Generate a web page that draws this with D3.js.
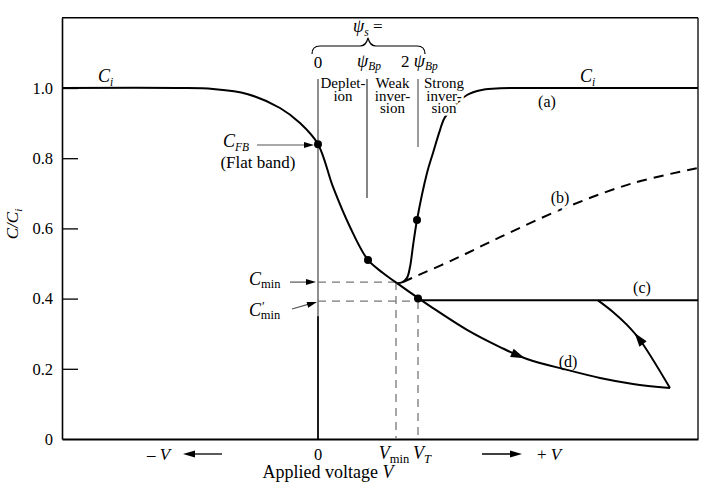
<!DOCTYPE html>
<html>
<head>
<meta charset="utf-8">
<script src="https://cdn.jsdelivr.net/npm/d3@7"></script>
<style>
  html, body { margin: 0; padding: 0; background: #fff; }
  svg { display: block; font-family: "Liberation Serif", "Times New Roman", serif; }
</style>
</head>
<body>
<svg id="chart" width="710" height="495"></svg>
<script>
// ---------------- DATA ----------------
const yTickValues = [0, 0.2, 0.4, 0.6, 0.8, 1.0];
const yTickLabels = ["0", "0.2", "0.4", "0.6", "0.8", "1.0"];

// common accumulation/depletion curve (V in units of V_T, C/Ci)
const mainV = [-2.56, -1.4, -1.05, -0.71, -0.38, -0.18, 0.0, 0.15, 0.32, 0.50, 0.65, 0.79];
const mainC = [1.0, 1.0, 0.997, 0.983, 0.943, 0.900, 0.840, 0.718, 0.604, 0.510, 0.473, 0.444];

// (a) low frequency
const aV = [0.79, 0.84, 0.89, 0.92, 0.95, 0.99, 1.09, 1.15, 1.22, 1.27, 1.49, 1.65, 1.82, 2.0, 3.8];
const aC = [0.444, 0.446, 0.459, 0.490, 0.550, 0.624, 0.758, 0.815, 0.880, 0.917, 0.980, 0.995, 0.999, 1.0, 1.0];

// (b) intermediate frequency (dashed)
const bV = [0.85, 0.95, 1.37, 1.82, 2.49, 3.15, 3.80];
const bC = [0.447, 0.460, 0.513, 0.575, 0.661, 0.729, 0.772];

// (c) high frequency
const cV = [1.0, 3.8];
const cC = [0.395, 0.395];

// (d) deep depletion
const dV = [0.79, 1.0, 1.15, 1.49, 1.82, 2.09, 2.49, 2.82, 3.15, 3.52];
const dC = [0.444, 0.402, 0.373, 0.311, 0.262, 0.228, 0.197, 0.174, 0.157, 0.145];

// (d) return to (c)
const rV = [3.52, 3.22, 3.09, 2.95, 2.80];
const rC = [0.145, 0.282, 0.325, 0.362, 0.395];

// marked points
const dotV = [0.0, 0.50, 0.99, 1.0];
const dotC = [0.840, 0.510, 0.624, 0.400];

// special values
const Vmin = 0.78, VT = 1.0;
const Cmin = 0.447, CminPrime = 0.393;
const psiV = [0.0, 0.49, 1.0];         // ψs = 0, ψBp, 2ψBp boundaries
const xTickValues = [0, Vmin, VT];

// ---------------- CHART ----------------
const svg = d3.select("#chart");
const x = d3.scaleLinear().domain([-2.56, 3.8]).range([62, 698]);
const y = d3.scaleLinear().domain([0, 1.2]).range([439, 17.8]);

const line = d3.line().x(d => x(d[0])).y(d => y(d[1])).curve(d3.curveCatmullRom.alpha(0.5));
const zip = (a, b) => a.map((v, i) => [v, b[i]]);

// frame: top and right
svg.append("line").attr("x1", x(-2.56)).attr("x2", x(3.8)).attr("y1", y(1.2)).attr("y2", y(1.2))
  .attr("stroke", "#000").attr("stroke-width", 1.6);
svg.append("line").attr("x1", x(3.8)).attr("x2", x(3.8)).attr("y1", y(1.2)).attr("y2", y(0))
  .attr("stroke", "#000").attr("stroke-width", 1.3);

// y axis with inward ticks
const yAxis = d3.axisLeft(y).tickValues(yTickValues)
  .tickFormat((d, i) => yTickLabels[i]).tickSizeInner(-16).tickSizeOuter(0).tickPadding(9);
const gy = svg.append("g").attr("transform", `translate(${x(-2.56)},0)`).call(yAxis);
gy.select(".domain").attr("stroke-width", 1.6);
gy.selectAll(".tick line").attr("stroke-width", 1.3);
gy.selectAll(".tick text").attr("font-size", 16.5).attr("font-family", "Liberation Serif").attr("fill", "#000");
gy.selectAll(".tick").filter(d => d === 0).select("line").remove();

// x axis
const xAxis = d3.axisBottom(x).tickValues(xTickValues).tickSize(0).tickPadding(0).tickFormat(() => "");
const gx = svg.append("g").attr("transform", `translate(0,${y(0)})`).call(xAxis);
gx.select(".domain").attr("stroke-width", 1.8);

// x tick labels
const xLab = svg.append("g").attr("font-size", 16.5).attr("fill", "#000");
xLab.append("text").attr("x", x(0)).attr("y", 460).attr("text-anchor", "middle").text("0");
const tvm = xLab.append("text").attr("x", x(Vmin) - 2).attr("y", 459).attr("text-anchor", "middle");
tvm.append("tspan").attr("font-style", "italic").attr("font-size", 18).text("V");
tvm.append("tspan").attr("font-size", 12.5).attr("dy", 4).text("min");
const tvt = xLab.append("text").attr("x", x(VT) + 4).attr("y", 459).attr("text-anchor", "middle");
tvt.append("tspan").attr("font-style", "italic").attr("font-size", 18).text("V");
tvt.append("tspan").attr("font-style", "italic").attr("font-size", 12.5).attr("dy", 4).text("T");

// arrowhead helper
function arrowHead(g, px, py, angle, len = 12, hw = 4) {
  const a = angle;
  const p1 = [px, py];
  const p2 = [px - len * Math.cos(a) + hw * Math.sin(a), py - len * Math.sin(a) - hw * Math.cos(a)];
  const p3 = [px - len * Math.cos(a) - hw * Math.sin(a), py - len * Math.sin(a) + hw * Math.cos(a)];
  g.append("path").attr("d", `M${p1}L${p2}L${p3}Z`).attr("fill", "#000");
}
// -V / +V arrows
const gv = svg.append("g").attr("fill", "#000");
gv.append("text").attr("x", 147).attr("y", 460).attr("font-size", 17)
  .html('– <tspan font-style="italic">V</tspan>');
gv.append("line").attr("x1", 222).attr("x2", 190).attr("y1", 454).attr("y2", 454).attr("stroke", "#000").attr("stroke-width", 1.3);
arrowHead(gv, 183, 454, Math.PI, 12, 3.5);
gv.append("line").attr("x1", 482).attr("x2", 515).attr("y1", 454).attr("y2", 454).attr("stroke", "#000").attr("stroke-width", 1.3);
arrowHead(gv, 522, 454, 0, 12, 3.5);
gv.append("text").attr("x", 537).attr("y", 460).attr("font-size", 17)
  .html('+ <tspan font-style="italic">V</tspan>');

// axis titles
svg.append("text").attr("x", 328).attr("y", 478).attr("text-anchor", "middle").attr("font-size", 18).attr("fill", "#000")
  .html('Applied voltage <tspan font-style="italic">V</tspan>');
svg.append("text").attr("transform", "translate(18,224) rotate(-90)").attr("text-anchor", "middle")
  .attr("font-size", 17).attr("font-style", "italic").attr("fill", "#000")
  .html('C/C<tspan font-size="11" dy="4">i</tspan>');

// region boundary lines
svg.append("line").attr("x1", x(psiV[0])).attr("x2", x(psiV[0])).attr("y1", 79).attr("y2", y(0))
  .attr("stroke", "#333").attr("stroke-width", 1.1);
svg.append("line").attr("x1", x(psiV[0])).attr("x2", x(psiV[0])).attr("y1", y(0.35)).attr("y2", y(0))
  .attr("stroke", "#000").attr("stroke-width", 1.6);
svg.append("line").attr("x1", x(psiV[1])).attr("x2", x(psiV[1])).attr("y1", 79).attr("y2", 198)
  .attr("stroke", "#222").attr("stroke-width", 1.1);
svg.append("line").attr("x1", x(psiV[2])).attr("x2", x(psiV[2])).attr("y1", 79).attr("y2", 147)
  .attr("stroke", "#666").attr("stroke-width", 1.3);

// dashed reference lines
const dash = svg.append("g").attr("stroke", "#777").attr("stroke-width", 1.3).attr("stroke-dasharray", "8,6").attr("fill", "none");
dash.append("line").attr("x1", x(0)).attr("x2", x(Vmin)).attr("y1", y(Cmin)).attr("y2", y(Cmin));
dash.append("line").attr("x1", x(Vmin)).attr("x2", x(Vmin)).attr("y1", y(Cmin)).attr("y2", y(0));
dash.append("line").attr("x1", x(0)).attr("x2", x(VT)).attr("y1", y(CminPrime)).attr("y2", y(CminPrime));
dash.append("line").attr("x1", x(VT)).attr("x2", x(VT)).attr("y1", y(CminPrime)).attr("y2", y(0));

// curves
const curves = svg.append("g").attr("fill", "none").attr("stroke", "#000").attr("stroke-width", 2);
curves.append("path").attr("d", line(zip(mainV, mainC)));
curves.append("path").attr("d", line(zip(aV, aC)));
curves.append("path").attr("d", line(zip(bV, bC))).attr("stroke-dasharray", "10,7");
curves.append("path").attr("d", line(zip(cV, cC)));
const dPath = curves.append("path").attr("d", line(zip(dV, dC)));
const rPath = curves.append("path").attr("d", line(zip(rV, rC)));

// arrows along curves
function arrowOnPath(pathSel, frac) {
  const node = pathSel.node();
  const L = node.getTotalLength();
  const p = node.getPointAtLength(L * frac);
  const q = node.getPointAtLength(L * frac - 2);
  const ang = Math.atan2(p.y - q.y, p.x - q.x);
  arrowHead(svg, p.x + 6 * Math.cos(ang), p.y + 6 * Math.sin(ang), ang, 14, 4.5);
}
arrowOnPath(dPath, 0.48);
arrowOnPath(rPath, 0.52);

// dots
svg.append("g").selectAll("circle").data(zip(dotV, dotC)).join("circle")
  .attr("cx", d => x(d[0])).attr("cy", d => y(d[1])).attr("r", 4).attr("fill", "#000");

// text helper
function label(xp, yp, html, size = 16, anchor = "start", bg = false) {
  const t = svg.append("text").attr("x", xp).attr("y", yp).attr("font-size", size)
    .attr("text-anchor", anchor).attr("fill", "#000").html(html);
  if (bg) t.attr("stroke", "#fff").attr("stroke-width", 5).attr("paint-order", "stroke");
  return t;
}
const Csub = (sub, italicSub = true) =>
  `<tspan font-style="italic" font-size="18">C</tspan><tspan ${italicSub ? 'font-style="italic"' : ''} font-size="11.5" dy="4">${sub}</tspan>`;

// Ci labels
label(98, 82, Csub("i"));
label(580, 82, Csub("i"));

// curve labels
label(547, 107, "(a)", 16, "middle");
label(560, 203, "(b)", 16, "middle", true);
label(642, 293, "(c)", 16, "middle");
label(568, 367, "(d)", 16, "middle");

// CFB
label(223, 147, Csub("FB"));
svg.append("line").attr("x1", 257).attr("x2", 305).attr("y1", 145).attr("y2", 145).attr("stroke", "#555").attr("stroke-width", 1.2);
arrowHead(svg, 314, 145, 0, 10, 3);
label(258, 168, "(Flat band)", 17, "middle");

// Cmin labels
label(249, 285, '<tspan font-style="italic" font-size="18">C</tspan><tspan font-size="12.5" dy="3">min</tspan>');
svg.append("line").attr("x1", 290).attr("x2", 308).attr("y1", y(Cmin)).attr("y2", y(Cmin)).attr("stroke", "#555").attr("stroke-width", 1.2);
arrowHead(svg, 316, y(Cmin), 0, 10, 3);
label(249, 316, '<tspan font-style="italic" font-size="18">C</tspan><tspan font-size="13" dx="1" dy="-6">′</tspan><tspan font-size="12.5" dx="-4" dy="9">min</tspan>');
svg.append("line").attr("x1", 292).attr("x2", 308).attr("y1", 309).attr("y2", 304.3).attr("stroke", "#555").attr("stroke-width", 1.2);
arrowHead(svg, 317, y(CminPrime) + 1, Math.atan2(-4.7, 16), 10, 3);

// psi_s brace
const brace = d3.path();
brace.moveTo(312, 54);
brace.quadraticCurveTo(312, 46, 320, 46);
brace.lineTo(360, 46);
brace.quadraticCurveTo(366, 46, 368, 38);
brace.quadraticCurveTo(370, 46, 376, 46);
brace.lineTo(417, 46);
brace.quadraticCurveTo(425, 46, 425, 54);
svg.append("path").attr("d", brace.toString()).attr("fill", "none").attr("stroke", "#000").attr("stroke-width", 1.2);
label(353, 32, '<tspan font-style="italic" font-size="18">ψ</tspan><tspan font-style="italic" font-size="11.5" dy="4">s</tspan><tspan dy="-4"> =</tspan>', 17);

// psi values
label(x(psiV[0]), 68, "0", 17, "middle");
label(357, 67, '<tspan font-style="italic" font-size="18">ψ</tspan><tspan font-style="italic" font-size="11.5" dy="3">Bp</tspan>', 17);
label(401, 67, '2 <tspan font-style="italic" font-size="18">ψ</tspan><tspan font-style="italic" font-size="11.5" dy="3">Bp</tspan>', 17);

// region labels (each block one text element)
const regionTxt = [
  [343, ["Deplet-", "ion"]],
  [392.5, ["Weak", "inver-", "sion"]],
  [444, ["Strong", "inver-", "sion"]]
];
regionTxt.forEach(([cx, lines]) => {
  const t = svg.append("text").attr("font-size", 15).attr("text-anchor", "middle").attr("fill", "#000");
  if (cx > 420) t.attr("stroke", "#fff").attr("stroke-width", 5).attr("paint-order", "stroke");
  lines.forEach((s, i) => t.append("tspan").attr("x", cx).attr("y", 88 + i * 12.5).text(s));
});
</script>
</body>
</html>
